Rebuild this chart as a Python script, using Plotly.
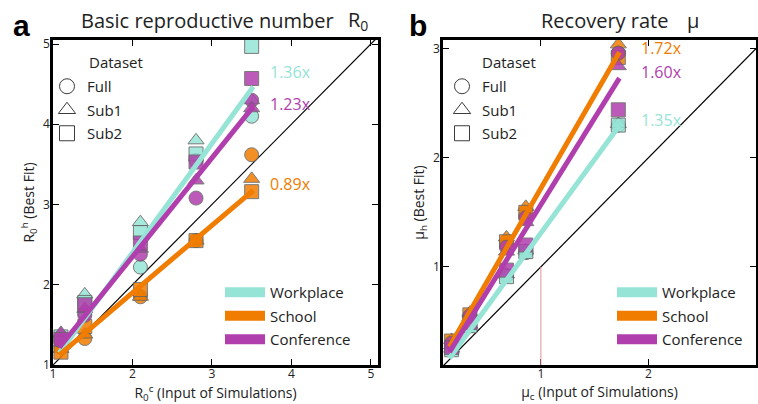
import plotly.graph_objects as go

# ---------------- data ----------------
r0_input = [1.1, 1.4, 2.1, 2.8, 3.5]
r0_work_full = [1.30, 1.65, 2.22, 3.55, 4.10]
r0_work_sub1 = [1.38, 1.88, 2.78, 3.80, 4.30]
r0_work_sub2 = [1.35, 1.78, 2.65, 3.63, 4.97]
r0_school_full = [1.22, 1.33, 1.85, 2.55, 3.62]
r0_school_sub1 = [1.20, 1.38, 1.85, 2.55, 3.32]
r0_school_sub2 = [1.16, 1.48, 1.94, 2.55, 3.16]
r0_conf_full = [1.30, 1.62, 2.38, 3.08, 4.30]
r0_conf_sub1 = [1.40, 1.70, 2.45, 3.30, 4.20]
r0_conf_sub2 = [1.32, 1.75, 2.52, 3.53, 4.57]

mu_input = [0.17, 0.34, 0.68, 0.86, 1.72]
mu_work_full = [0.25, 0.46, 0.92, 1.13, 2.30]
mu_work_sub1 = [0.25, 0.47, 0.93, 1.15, 2.31]
mu_work_sub2 = [0.24, 0.46, 0.91, 1.14, 2.30]
mu_school_full = [0.31, 0.55, 1.20, 1.47, 2.96]
mu_school_sub1 = [0.33, 0.58, 1.27, 1.55, 3.04]
mu_school_sub2 = [0.32, 0.56, 1.23, 1.50, 2.92]
mu_conf_full = [0.30, 0.55, 1.18, 1.45, 2.96]
mu_conf_sub1 = [0.28, 0.54, 1.14, 1.41, 2.84]
mu_conf_sub2 = [0.26, 0.49, 0.97, 1.20, 2.44]

settings = ["Workplace", "School", "Conference"]
datasets = ["Full", "Sub1", "Sub2"]

# fitted lines (slope, intercept, x-extent)
r0_fit_slope = [1.36, 0.84, 1.23]
r0_fit_icpt = [-0.32, 0.22, -0.11]
r0_fit_x = [1.08, 3.52]
mu_fit_slope = [1.35, 1.71, 1.59]
mu_fit_icpt = [-0.04, 0.01, -0.02]
mu_fit_x = [0.15, 1.73]

r0_fold_labels = ["1.36x", "0.89x", "1.23x"]
r0_fold_label_y = [4.65, 3.26, 4.25]
mu_fold_labels = ["1.35x", "1.72x", "1.60x"]
mu_fold_label_y = [2.35, 3.01, 2.79]

r0_range = [1.0, 5.09]
r0_yrange = [1.0, 5.05]
mu_range = [0.09, 3.0]
mu_yrange = [0.1, 3.08]

# ---------------- style ----------------
FONT = "Open Sans"
COLORS = ["rgb(150,228,214)", "rgb(240,124,0)", "rgb(176,62,172)"]
SYMBOLS = ["circle", "triangle-up", "square"]
W, H = 758, 404

r0_series = [[r0_work_full, r0_work_sub1, r0_work_sub2],
             [r0_school_full, r0_school_sub1, r0_school_sub2],
             [r0_conf_full, r0_conf_sub1, r0_conf_sub2]]
mu_series = [[mu_work_full, mu_work_sub1, mu_work_sub2],
             [mu_school_full, mu_school_sub1, mu_school_sub2],
             [mu_conf_full, mu_conf_sub1, mu_conf_sub2]]

fig = go.Figure()


def panel(xa, ya, xin, series, slopes, icpts, fx, rng, yrng, labels, label_y, label_x):
    lo = min(rng[0], yrng[0])
    hi = max(rng[1], yrng[1])
    fig.add_trace(go.Scatter(x=[lo, hi], y=[lo, hi], mode="lines", xaxis=xa, yaxis=ya,
                             line=dict(color="black", width=1.2), showlegend=False, hoverinfo="skip"))
    for ci in [0, 1, 2]:
        for di in range(3):
            fig.add_trace(go.Scatter(
                x=xin, y=series[ci][di], mode="markers", xaxis=xa, yaxis=ya,
                marker=dict(symbol=SYMBOLS[di], size=14, color=COLORS[ci], opacity=0.85,
                            line=dict(color="rgb(100,100,100)", width=1)),
                showlegend=False))
    for ci in [0, 1, 2]:
        fig.add_trace(go.Scatter(
            x=fx, y=[slopes[ci] * v + icpts[ci] for v in fx], mode="lines", xaxis=xa, yaxis=ya,
            line=dict(color=COLORS[ci], width=5), showlegend=False))
        fig.add_annotation(x=label_x, y=label_y[ci], xref=xa, yref=ya, text=labels[ci],
                           showarrow=False, xanchor="left", yanchor="middle",
                           font=dict(family=FONT, size=16, color=COLORS[ci]))


panel("x", "y", r0_input, r0_series, r0_fit_slope, r0_fit_icpt, r0_fit_x,
      r0_range, r0_yrange, r0_fold_labels, r0_fold_label_y, 3.71)
panel("x2", "y2", mu_input, mu_series, mu_fit_slope, mu_fit_icpt, mu_fit_x,
      mu_range, mu_yrange, mu_fold_labels, mu_fold_label_y, 1.91)

# reference line at mu = 1
fig.add_shape(type="line", xref="x2", yref="y2", x0=1, x1=1, y0=mu_yrange[0], y1=1,
              line=dict(color="rgb(230,150,150)", width=1))

# legends
for lg_d, lg_c in [("legend", "legend2"), ("legend3", "legend4")]:
    for di, name in enumerate(datasets):
        fig.add_trace(go.Scatter(x=[None], y=[None], mode="markers", name=name, legend=lg_d,
                                 legendgroup=lg_d + name,
                                 marker=dict(symbol=SYMBOLS[di], size=15, color="white",
                                             line=dict(color="rgb(60,60,60)", width=1))))
    for ci, name in enumerate(settings):
        fig.add_trace(go.Scatter(x=[None], y=[None], mode="lines", name=name, legend=lg_c,
                                 legendgroup=lg_c + name,
                                 line=dict(color=COLORS[ci], width=12)))


def px(xp):
    return xp / W


def py(yp):
    return (H - yp) / H


leg_common = dict(bgcolor="rgba(0,0,0,0)", borderwidth=0, xanchor="left", yanchor="top",
                  font=dict(family=FONT, size=15, color="#222"), tracegroupgap=1,
                  traceorder="grouped")
fig.update_layout(
    legend=dict(x=px(47), y=py(70), **leg_common),
    legend2=dict(x=px(220), y=py(276), itemwidth=40, **leg_common),
    legend3=dict(x=px(442), y=py(70), **leg_common),
    legend4=dict(x=px(612), y=py(276), itemwidth=40, **leg_common),
)

for xp, yp in [(87, 62), (480, 62)]:
    fig.add_annotation(x=px(xp), y=py(yp), xref="paper", yref="paper", text="Dataset",
                       showarrow=False, xanchor="left", yanchor="middle",
                       font=dict(family=FONT, size=15, color="#222"))

# titles
titles = [
    (11, 25, "<b>a</b>", dict(family="Liberation Sans", size=30, color="black")),
    (79, 20, "Basic reproductive number", dict(family=FONT, size=20, color="#222")),
    (346, 20, "R<sub>0</sub>", dict(family=FONT, size=20, color="#222")),
    (407, 25, "<b>b</b>", dict(family="Liberation Sans", size=30, color="black")),
    (539, 20, "Recovery rate", dict(family=FONT, size=20, color="#222")),
    (685, 20, "\u03bc", dict(family=FONT, size=20, color="#222")),
]
for xp, yp, t, f in titles:
    fig.add_annotation(x=px(xp), y=py(yp), xref="paper", yref="paper", text=t,
                       showarrow=False, xanchor="left", yanchor="middle", font=f)

ax_common = dict(showline=True, linewidth=2.5, linecolor="black", mirror="ticks",
                 ticks="inside", ticklen=6, tickwidth=1.2, tickcolor="black",
                 showgrid=False, zeroline=False, automargin=False,
                 tickfont=dict(family=FONT, size=12, color="#222"),
                 title_font=dict(family=FONT, size=14, color="#222"))

fig.update_layout(
    xaxis=dict(domain=[px(53), px(378)], range=r0_range, tickvals=[1, 2, 3, 4, 5], anchor="y",
               ticklabelstandoff=-4,
               title=dict(text="R<sub>0</sub><sup>c</sup> (Input of Simulations)", standoff=6),
               **ax_common),
    yaxis=dict(domain=[py(365), py(40)], range=r0_yrange, tickvals=[1, 2, 3, 4, 5], anchor="x",
               ticklabelstandoff=-2,
               title=dict(text="R<sub>0</sub><sup>h</sup> (Best Fit)", standoff=6), **ax_common),
    xaxis2=dict(domain=[px(443), px(756)], range=mu_range, tickvals=[1, 2, 3], anchor="y2",
                ticklabelstandoff=-4,
                title=dict(text="\u03bc<sub>c</sub> (Input of Simulations)", standoff=6),
                **ax_common),
    yaxis2=dict(domain=[py(365), py(40)], range=mu_yrange, tickvals=[1, 2, 3], anchor="x2",
                ticklabelstandoff=-2,
                title=dict(text="\u03bc<sub>h</sub> (Best Fit)", standoff=6), **ax_common),
    width=W, height=H, margin=dict(l=0, r=0, t=0, b=0),
    paper_bgcolor="white", plot_bgcolor="white", showlegend=True,
    font=dict(family=FONT),
)

fig.write_html("out.html")
